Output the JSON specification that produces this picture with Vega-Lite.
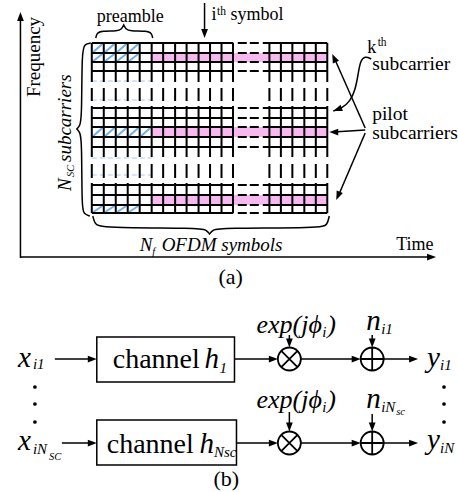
{
 "$schema": "https://vega.github.io/schema/vega-lite/v6.json",
 "width": 458, "height": 492,
 "autosize": {"type": "fit", "contains": "padding"},
 "padding": 0,
 "background": "white",
 "config": {"view": {"stroke": null}, "text": {"font": "Liberation Serif, Times New Roman, DejaVu Serif, serif"}},
 "datasets": {
  "pink": [
   {"x":152,"x2":328,"y":53,"y2":62},
   {"x":152,"x2":328,"y":127,"y2":137},
   {"x":152,"x2":328,"y":195,"y2":205}
  ],
  "hatch": [
   {"x":93.5,"y":52,"x2":102.5,"y2":44},{"x":105.5,"y":52,"x2":114.5,"y2":44},{"x":117.5,"y":52,"x2":126.5,"y2":44},{"x":129.5,"y":52,"x2":138.5,"y2":44},
   {"x":93.5,"y":61,"x2":102.5,"y2":54},{"x":105.5,"y":61,"x2":114.5,"y2":54},{"x":117.5,"y":61,"x2":126.5,"y2":54},{"x":129.5,"y":61,"x2":138.5,"y2":54},
   {"x":93.5,"y":136,"x2":102.5,"y2":128},{"x":105.5,"y":136,"x2":114.5,"y2":128},{"x":117.5,"y":136,"x2":126.5,"y2":128},{"x":129.5,"y":136,"x2":138.5,"y2":128},{"x":141.5,"y":136,"x2":150.5,"y2":128},
   {"x":93.5,"y":212,"x2":102.5,"y2":206},{"x":105.5,"y":212,"x2":114.5,"y2":206},{"x":117.5,"y":212,"x2":126.5,"y2":206},{"x":129.5,"y":212,"x2":138.5,"y2":206}
  ],
  "faint": [
   {"x":92,"x2":152,"y":81},{"x":92,"x2":152,"y":100},{"x":92,"x2":152,"y":158},{"x":92,"x2":152,"y":175}
  ],
  "vlines": [
   {"x":92,"y":43,"y2":213},{"x":104,"y":43,"y2":213},{"x":116,"y":43,"y2":213},{"x":128,"y":43,"y2":213},
   {"x":140,"y":43,"y2":213},{"x":152,"y":43,"y2":213},{"x":163.5,"y":43,"y2":213},{"x":175.5,"y":43,"y2":213},
   {"x":187,"y":43,"y2":213},{"x":199,"y":43,"y2":213},{"x":210.5,"y":43,"y2":213},{"x":222,"y":43,"y2":213},
   {"x":233.5,"y":43,"y2":213},{"x":270,"y":43,"y2":213},{"x":281.5,"y":43,"y2":213},{"x":293,"y":43,"y2":213},
   {"x":305,"y":43,"y2":213},{"x":316.5,"y":43,"y2":213},{"x":328,"y":43,"y2":213}
  ],
  "hlines": [
   {"x":92,"x2":328,"y":43},{"x":92,"x2":328,"y":53},{"x":92,"x2":328,"y":62},{"x":92,"x2":328,"y":71},
   {"x":92,"x2":328,"y":108},{"x":92,"x2":328,"y":118},{"x":92,"x2":328,"y":127},{"x":92,"x2":328,"y":137},{"x":92,"x2":328,"y":147},
   {"x":92,"x2":328,"y":185},{"x":92,"x2":328,"y":195},{"x":92,"x2":328,"y":205},{"x":92,"x2":328,"y":213}
  ],
  "curves": [
   {"id":"L","i":0,"x":91,"y":43},{"id":"L","i":1,"x":85,"y":44},{"id":"L","i":2,"x":82,"y":50},{"id":"L","i":3,"x":82,"y":118},
   {"id":"L","i":4,"x":80,"y":126},{"id":"L","i":5,"x":77,"y":129},{"id":"L","i":6,"x":77,"y":129},{"id":"L","i":7,"x":77,"y":129},
   {"id":"L","i":8,"x":80,"y":132},{"id":"L","i":9,"x":82,"y":140},{"id":"L","i":10,"x":82,"y":208},{"id":"L","i":11,"x":84,"y":214},{"id":"L","i":12,"x":90,"y":216},
   {"id":"B","i":0,"x":93,"y":216},{"id":"B","i":1,"x":95,"y":224},{"id":"B","i":2,"x":101,"y":228},{"id":"B","i":3,"x":200,"y":228},
   {"id":"B","i":4,"x":207,"y":230},{"id":"B","i":5,"x":210,"y":234},{"id":"B","i":6,"x":210,"y":234},{"id":"B","i":7,"x":210,"y":234},
   {"id":"B","i":8,"x":213,"y":230},{"id":"B","i":9,"x":220,"y":228},{"id":"B","i":10,"x":322,"y":228},{"id":"B","i":11,"x":328,"y":225},{"id":"B","i":12,"x":330,"y":216},
   {"id":"P","i":0,"x":96,"y":38},{"id":"P","i":1,"x":97,"y":33},{"id":"P","i":2,"x":102,"y":31},{"id":"P","i":3,"x":118,"y":31},
   {"id":"P","i":4,"x":122,"y":29},{"id":"P","i":5,"x":124,"y":25},{"id":"P","i":6,"x":124,"y":25},{"id":"P","i":7,"x":124,"y":25},
   {"id":"P","i":8,"x":126,"y":29},{"id":"P","i":9,"x":130,"y":31},{"id":"P","i":10,"x":147,"y":31},{"id":"P","i":11,"x":152,"y":33},{"id":"P","i":12,"x":153,"y":38},
   {"id":"K","i":0,"x":372,"y":59},{"id":"K","i":1,"x":366,"y":56},{"id":"K","i":2,"x":361,"y":61},{"id":"K","i":3,"x":359,"y":74},
   {"id":"K","i":4,"x":356,"y":90},{"id":"K","i":5,"x":351,"y":101},{"id":"K","i":6,"x":343,"y":108},{"id":"K","i":7,"x":334,"y":111}
  ],
  "shafts": [
   {"x":20.5,"y":258,"x2":20.5,"y2":16},
   {"x":20.5,"y":257,"x2":434,"y2":257},
   {"x":205,"y":3,"x2":205,"y2":34},
   {"x":366,"y":128,"x2":335,"y2":58},
   {"x":366,"y":130,"x2":334,"y2":132},
   {"x":366,"y":133,"x2":339,"y2":196},
   {"x":55,"y":359,"x2":93,"y2":359},
   {"x":235,"y":359,"x2":275,"y2":359},
   {"x":301.5,"y":359,"x2":358,"y2":359},
   {"x":384.5,"y":359,"x2":415,"y2":359},
   {"x":62,"y":443,"x2":93,"y2":443},
   {"x":237,"y":443,"x2":275,"y2":443},
   {"x":301.5,"y":443,"x2":358,"y2":443},
   {"x":384.5,"y":443,"x2":415,"y2":443},
   {"x":290,"y":335,"x2":290,"y2":344},
   {"x":373,"y":335,"x2":373,"y2":344},
   {"x":290,"y":412,"x2":290,"y2":428},
   {"x":373,"y":414,"x2":373,"y2":428}
  ],
  "heads": [
   {"x":20.5,"y":12,"heading":270},
   {"x":437,"y":257,"heading":0},
   {"x":205,"y":38,"heading":90},
   {"x":333,"y":54,"heading":246},
   {"x":330,"y":132,"heading":180},
   {"x":337,"y":200,"heading":113},
   {"x":334,"y":111,"heading":160},
   {"x":97,"y":359,"heading":0},{"x":278.5,"y":359,"heading":0},{"x":361.5,"y":359,"heading":0},{"x":419,"y":359,"heading":0},
   {"x":97,"y":443,"heading":0},{"x":278.5,"y":443,"heading":0},{"x":361.5,"y":443,"heading":0},{"x":419,"y":443,"heading":0},
   {"x":290,"y":347.5,"heading":90},{"x":373,"y":347.5,"heading":90},{"x":290,"y":431.5,"heading":90},{"x":373,"y":431.5,"heading":90}
  ],
  "boxes": [
   {"x":97,"x2":235,"y":337,"y2":382},
   {"x":97,"x2":237,"y":420,"y2":465}
  ],
  "ops": [
   {"kind":"mul","x":290,"y":359},{"kind":"add","x":373,"y":359},
   {"kind":"mul","x":290,"y":443},{"kind":"add","x":373,"y":443}
  ],
  "dots": [
   {"x":35,"y":387},{"x":35,"y":404},{"x":35,"y":422},
   {"x":445,"y":387},{"x":445,"y":404},{"x":445,"y":422}
  ],
  "texts": [
   {"g":"n18","t":"preamble","x":97,"y":22},
   {"g":"n18","t":"i","x":212,"y":20},
   {"g":"n18","t":"symbol","x":231,"y":20},
   {"g":"n18","t":"k","x":368,"y":53},
   {"g":"n18","t":"Time","x":397,"y":250},
   {"g":"n12","t":"th","x":217.5,"y":15},
   {"g":"n12","t":"th","x":378.5,"y":46},
   {"g":"n19","t":"subcarrier","x":373,"y":70},
   {"g":"n19","t":"pilot","x":373,"y":120},
   {"g":"n19","t":"subcarriers","x":373,"y":139},
   {"g":"n22","t":"(a)","x":219,"y":284},
   {"g":"n22","t":"(b)","x":214,"y":486},
   {"g":"n28","t":"channel","x":113,"y":368},
   {"g":"n28","t":"channel","x":107,"y":453},
   {"g":"r19","t":"Frequency","x":40.5,"y":57},
   {"g":"ir19","t":"N","x":71,"y":191},
   {"g":"ir19","t":"subcarriers","x":71,"y":162},
   {"g":"ir11","t":"SC","x":74.5,"y":177},
   {"g":"i19","t":"N","x":140,"y":251},
   {"g":"i19","t":"OFDM symbols","x":162,"y":251},
   {"g":"i11","t":"f","x":152.5,"y":255},
   {"g":"i11","t":"SC","x":49,"y":460},
   {"g":"i11","t":"sc","x":397,"y":415},
   {"g":"i29","t":"x","x":18,"y":367},
   {"g":"i29","t":"y","x":428,"y":367},
   {"g":"i29","t":"h","x":205,"y":368},
   {"g":"i29","t":"n","x":367,"y":330},
   {"g":"i29","t":"x","x":18,"y":450},
   {"g":"i29","t":"y","x":428,"y":449},
   {"g":"i29","t":"h","x":200,"y":453},
   {"g":"i29","t":"n","x":367,"y":408},
   {"g":"i26","t":"exp(jϕ","x":257,"y":333},
   {"g":"i26","t":")","x":328,"y":333},
   {"g":"i26","t":"exp(jϕ","x":257,"y":408},
   {"g":"i26","t":")","x":328,"y":408},
   {"g":"i15","t":"i1","x":33,"y":369},
   {"g":"i15","t":"i1","x":441,"y":370},
   {"g":"i15","t":"1","x":220,"y":373},
   {"g":"i15","t":"i1","x":382,"y":334},
   {"g":"i15","t":"i","x":323,"y":337},
   {"g":"i15","t":"i","x":323,"y":412},
   {"g":"i15","t":"iN","x":33,"y":454},
   {"g":"i15","t":"Nsc","x":214.5,"y":457},
   {"g":"i15","t":"iN","x":382,"y":412},
   {"g":"i15","t":"iN","x":441,"y":453}
  ]
 },
 "encoding": {
  "x": {"field":"x","type":"quantitative","scale":{"domain":[0,458],"nice":false,"zero":false},"axis":null},
  "y": {"field":"y","type":"quantitative","scale":{"domain":[0,492],"nice":false,"zero":false,"reverse":true},"axis":null}
 },
 "layer": [
  {"data":{"name":"pink"},"mark":{"type":"rect","color":"#f6b8ef"},"encoding":{"x2":{"field":"x2"},"y2":{"field":"y2"}}},
  {"data":{"name":"hatch"},"mark":{"type":"rule","color":"#6fb0ea","strokeWidth":2},"encoding":{"x2":{"field":"x2"},"y2":{"field":"y2"}}},
  {"data":{"name":"faint"},"mark":{"type":"rule","color":"#a8cdf0","strokeWidth":1.2,"strokeDash":[5,3]},"encoding":{"x2":{"field":"x2"}}},
  {"data":{"name":"vlines"},"mark":{"type":"rule","color":"black","strokeWidth":2,"strokeDash":[39,6,13,5,51,7,14,5,30]},"encoding":{"y2":{"field":"y2"}}},
  {"data":{"name":"hlines"},"mark":{"type":"rule","color":"black","strokeWidth":2,"strokeDash":[141.5,4.5,9,3,9,4,65]},"encoding":{"x2":{"field":"x2"}}},
  {"data":{"name":"curves"},"mark":{"type":"line","color":"black","strokeWidth":1.5,"interpolate":"basis"},"encoding":{"order":{"field":"i","type":"quantitative"},"detail":{"field":"id"}}},
  {"data":{"name":"shafts"},"mark":{"type":"rule","color":"black","strokeWidth":1.5},"encoding":{"x2":{"field":"x2"},"y2":{"field":"y2"}}},
  {"data":{"name":"heads"},"mark":{"type":"point","shape":"M0,0L-2,-0.75L-2,0.75Z","filled":true,"color":"black","opacity":1,"size":81},"encoding":{"angle":{"field":"heading","type":"quantitative","scale":null}}},
  {"data":{"name":"boxes"},"mark":{"type":"rect","filled":false,"color":"black","strokeWidth":1.5},"encoding":{"x2":{"field":"x2"},"y2":{"field":"y2"}}},
  {"data":{"name":"ops"},"transform":[{"filter":"datum.kind == 'mul'"}],"mark":{"type":"point","shape":"M-1,0A1,1,0,1,0,1,0A1,1,0,1,0,-1,0ZM-0.707,-0.707L0.707,0.707M-0.707,0.707L0.707,-0.707","filled":false,"color":"black","opacity":1,"strokeWidth":1.8,"size":529}},
  {"data":{"name":"ops"},"transform":[{"filter":"datum.kind == 'add'"}],"mark":{"type":"point","shape":"M-1,0A1,1,0,1,0,1,0A1,1,0,1,0,-1,0ZM-1,0L1,0M0,-1L0,1","filled":false,"color":"black","opacity":1,"strokeWidth":1.8,"size":529}},
  {"data":{"name":"dots"},"mark":{"type":"circle","color":"black","opacity":1,"size":14}},
  {"data":{"name":"texts"},"transform":[{"filter":"datum.g == 'n18'"}],"mark":{"type":"text","fontSize":18,"align":"left","baseline":"alphabetic","color":"black"},"encoding":{"text":{"field":"t"}}},
  {"data":{"name":"texts"},"transform":[{"filter":"datum.g == 'n12'"}],"mark":{"type":"text","fontSize":11.5,"align":"left","baseline":"alphabetic","color":"black"},"encoding":{"text":{"field":"t"}}},
  {"data":{"name":"texts"},"transform":[{"filter":"datum.g == 'n19'"}],"mark":{"type":"text","fontSize":19.5,"align":"left","baseline":"alphabetic","color":"black"},"encoding":{"text":{"field":"t"}}},
  {"data":{"name":"texts"},"transform":[{"filter":"datum.g == 'n22'"}],"mark":{"type":"text","fontSize":22,"align":"left","baseline":"alphabetic","color":"black"},"encoding":{"text":{"field":"t"}}},
  {"data":{"name":"texts"},"transform":[{"filter":"datum.g == 'n28'"}],"mark":{"type":"text","fontSize":28,"align":"left","baseline":"alphabetic","color":"black"},"encoding":{"text":{"field":"t"}}},
  {"data":{"name":"texts"},"transform":[{"filter":"datum.g == 'r19'"}],"mark":{"type":"text","fontSize":19,"align":"center","baseline":"alphabetic","angle":270,"color":"black"},"encoding":{"text":{"field":"t"}}},
  {"data":{"name":"texts"},"transform":[{"filter":"datum.g == 'ir19'"}],"mark":{"type":"text","fontStyle":"italic","fontSize":19,"align":"left","baseline":"alphabetic","angle":270,"color":"black"},"encoding":{"text":{"field":"t"}}},
  {"data":{"name":"texts"},"transform":[{"filter":"datum.g == 'ir11'"}],"mark":{"type":"text","fontStyle":"italic","fontSize":10.5,"align":"left","baseline":"alphabetic","angle":270,"color":"black"},"encoding":{"text":{"field":"t"}}},
  {"data":{"name":"texts"},"transform":[{"filter":"datum.g == 'i19'"}],"mark":{"type":"text","fontStyle":"italic","fontSize":19,"align":"left","baseline":"alphabetic","color":"black"},"encoding":{"text":{"field":"t"}}},
  {"data":{"name":"texts"},"transform":[{"filter":"datum.g == 'i11'"}],"mark":{"type":"text","fontStyle":"italic","fontSize":10.5,"align":"left","baseline":"alphabetic","color":"black"},"encoding":{"text":{"field":"t"}}},
  {"data":{"name":"texts"},"transform":[{"filter":"datum.g == 'i29'"}],"mark":{"type":"text","fontStyle":"italic","fontSize":29,"align":"left","baseline":"alphabetic","color":"black"},"encoding":{"text":{"field":"t"}}},
  {"data":{"name":"texts"},"transform":[{"filter":"datum.g == 'i26'"}],"mark":{"type":"text","fontStyle":"italic","fontSize":26,"align":"left","baseline":"alphabetic","color":"black"},"encoding":{"text":{"field":"t"}}},
  {"data":{"name":"texts"},"transform":[{"filter":"datum.g == 'i15'"}],"mark":{"type":"text","fontStyle":"italic","fontSize":15,"align":"left","baseline":"alphabetic","color":"black"},"encoding":{"text":{"field":"t"}}}
 ]
}
